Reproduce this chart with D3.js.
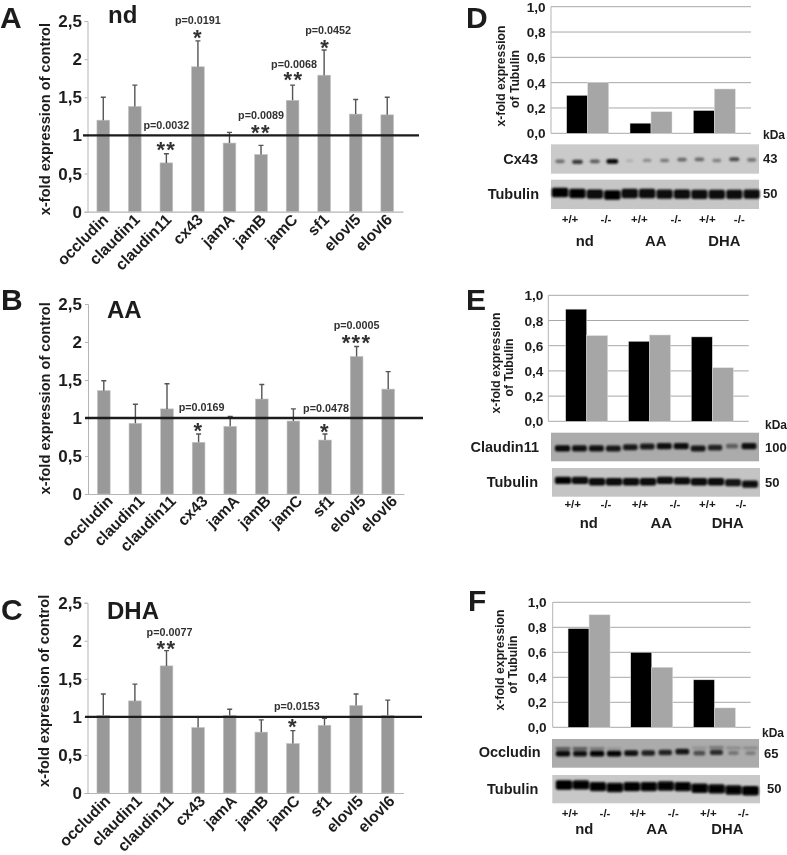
<!DOCTYPE html>
<html><head><meta charset="utf-8">
<script src="https://cdn.jsdelivr.net/npm/d3@7"></script>
<style>html,body{margin:0;padding:0;background:#fff}svg{display:block}text{font-family:"Liberation Sans",Arial,sans-serif;font-weight:bold;fill:#1c1c1c}</style>
</head><body><svg id="c" width="787" height="855"></svg>
<script>
// ---- data ----
const genes=["occludin","claudin1","claudin11","cx43","jamA","jamB","jamC","sf1","elovl5","elovl6"];
const yTicksLeft=[0,0.5,1,1.5,2,2.5];
const yTickLabelsLeft=["0","0,5","1","1,5","2","2,5"];
const yTicksRight=[0,0.2,0.4,0.6,0.8,1];
const yTickLabelsRight=["0,0","0,2","0,4","0,6","0,8","1,0"];
const ndMean=[1.2,1.38,0.64,1.9,0.9,0.75,1.46,1.79,1.28,1.27];
const ndUpper=[1.5,1.66,0.76,2.24,1.04,0.87,1.66,2.12,1.47,1.5];
const aaMean=[1.36,0.93,1.12,0.68,0.89,1.25,0.96,0.71,1.81,1.38];
const aaUpper=[1.49,1.18,1.45,0.79,1.02,1.44,1.12,0.79,1.94,1.61];
const dhaMean=[1.02,1.21,1.67,0.86,1.02,0.8,0.65,0.89,1.15,1.02];
const dhaUpper=[1.3,1.43,1.87,1.0,1.1,0.96,0.82,0.98,1.3,1.22];
const ndNotes=[["claudin11","p=0.0032","**",1.09,0.865],["cx43","p=0.0191","*",2.46,2.34],["jamB","p=0.0089","**",1.21,1.09],["jamC","p=0.0068","**",1.887,1.78],["sf1","p=0.0452","*",2.33,2.21]];
const aaNotes=[["cx43","p=0.0169","*",1.096,0.886],["sf1","p=0.0478","*",1.083,0.88],["elovl5","p=0.0005","***",2.165,2.05]];
const dhaNotes=[["claudin11","p=0.0077","**",2.063,1.954],["jamC","p=0.0153","*",1.09,0.924]];
const diets=["nd","AA","DHA"];
const genotypes=["+/+","-/-"];
const cx43Wt=[0.30,0.08,0.18], cx43Ko=[0.40,0.17,0.35];
const cldnWt=[0.89,0.635,0.67], cldnKo=[0.68,0.685,0.425];
const occlWt=[0.79,0.60,0.38], occlKo=[0.90,0.48,0.155];
const lanes=d3.range(12);
const cx43Band=[.45,.72,.55,.95,.12,.3,.4,.48,.48,.36,.62,.42];
const cx43Mig=[.58,.6,.58,.58,.56,.55,.55,.52,.51,.55,.51,.53];
const tubDBand=[1,.98,.96,1,.96,.96,.95,.96,.95,.95,.94,.95];
const tubDMig=[.44,.47,.49,.52,.47,.47,.49,.49,.5,.5,.5,.49];
const cldnBand=[.95,.9,.9,.88,.85,.85,.92,.92,.88,.8,.45,.92];
const cldnMig=[.55,.55,.55,.55,.51,.48,.47,.47,.55,.52,.47,.47];
const tubEBand=[.98,.96,.96,.96,.96,.96,.96,.96,.96,.96,.9,.92];
const tubEMig=[.43,.43,.48,.48,.48,.48,.43,.45,.48,.48,.51,.56];
const occlBand=[.95,.9,.98,.98,.9,.82,.8,.88,.55,.75,.32,.28];
const occlUpper=[.5,.5,.3,.1,0,0,0,0,.15,.3,.2,.2];
const occlMig=[.51,.51,.51,.51,.49,.49,.47,.44,.49,.47,.49,.49];
const tubFBand=[1,.98,.97,.97,.98,.97,.97,.97,.98,.98,.97,1];
const tubFMig=[.35,.35,.41,.44,.41,.41,.39,.41,.47,.49,.53,.56];

// ---- drawing ----
const svg=d3.select("#c");
const defs=svg.append("defs");
defs.append("filter").attr("id","soft").attr("x","-2%").attr("y","-2%").attr("width","104%").attr("height","104%").append("feGaussianBlur").attr("stdDeviation",0.35);
defs.append("filter").attr("id","band").attr("x","-30%").attr("y","-60%").attr("width","160%").attr("height","220%").append("feGaussianBlur").attr("stdDeviation",0.9);
const root=svg.append("g").attr("filter","url(#soft)");
const txt=(s,x,y,size,anchor="start",rot=null,fill=null)=>{
  const t=root.append("text").attr("x",x).attr("y",y).attr("font-size",size).attr("text-anchor",anchor).text(s);
  if(rot!==null)t.attr("transform",`rotate(${rot} ${x} ${y})`);
  if(fill)t.style("fill",fill);
  return t;
};
function left(o){
  const x=d3.scaleBand().domain(genes).range([o.x0,o.x1]);
  const y=d3.scaleLinear().domain([0,2.5]).range([o.bottom,o.top]);
  const g=root.append("g");
  const rows=genes.map((k,i)=>({k,m:o.mean[i],u:o.upper[i]}));
  const bw=12.7;
  g.selectAll(".bar").data(rows).join("rect").attr("x",d=>x(d.k)+x.bandwidth()/2-bw/2).attr("width",bw).attr("y",d=>y(d.m)).attr("height",d=>y(0)-y(d.m)).attr("fill","#999").attr("stroke","#c4c4c4").attr("stroke-width",.6);
  g.selectAll(".eb").data(rows).join("path").attr("d",d=>{const c=x(d.k)+x.bandwidth()/2;return `M${c},${y(d.m)}V${y(d.u)}M${c-2.5},${y(d.u)}H${c+2.5}`}).attr("stroke","#555").attr("stroke-width",1.4).attr("fill","none");
  const ax=g.append("g").attr("transform",`translate(${o.x0},0)`).call(d3.axisLeft(y).tickValues(yTicksLeft).tickSize(3).tickFormat(""));
  ax.selectAll("path,line").attr("stroke","#b5b5b5").attr("stroke-width",1);
  g.append("g").attr("transform",`translate(0,${o.bottom})`).call(d3.axisBottom(x).tickSize(0).tickFormat("")).selectAll("path").attr("stroke","#b5b5b5").attr("stroke-width",1.2);
  g.append("line").attr("x1",o.refX0).attr("x2",o.refX1).attr("y1",y(1)).attr("y2",y(1)).attr("stroke","#1a1a1a").attr("stroke-width",2.4);
  yTicksLeft.forEach((t,i)=>txt(yTickLabelsLeft[i],82,y(t)+6,17,"end"));
  genes.forEach((k,i)=>txt(k,x(k)+x.bandwidth()/2+5+o.labDx,o.bottom+o.labDy,15.7,"end",-45));
  txt("x-fold expression of control",o.titleX,(o.top+o.bottom)/2+o.titleDy,14.6,"middle",-90);
  txt(o.title,o.titleTx,o.titleTy,24);
  txt(o.letter,o.letterX,o.letterY,30);
  o.notes.forEach(n=>{
    const c=x(n[0])+x.bandwidth()/2;
    const dx=o.noteDx[n[0]]||[0,0];
    txt(n[1],c+dx[0],y(n[3]),10.8,"middle",null,"#333");
    txt(n[2],c+dx[1],y(n[4])+11.5,22,"middle",null,"#333").style("letter-spacing","1.4px");
  });
}
left({x0:87.5,x1:403,top:21,bottom:211.7,mean:ndMean,upper:ndUpper,refX0:83,refX1:419,notes:ndNotes,noteDx:{sf1:[4,1],jamC:[1.5,1]},title:"nd",titleTx:108,titleTy:23,letter:"A",letterX:0,letterY:28,titleX:50,titleDy:2.7,labDx:1,labDy:9});
left({x0:88,x1:404,top:304,bottom:494,mean:aaMean,upper:aaUpper,refX0:85,refX1:423,notes:aaNotes,noteDx:{cx43:[3,0],sf1:[1,0]},title:"AA",titleTx:107,titleTy:318,letter:"B",letterX:1,letterY:310,titleX:50,titleDy:-0.7,labDx:5,labDy:8});
left({x0:87.5,x1:403.5,top:602.7,bottom:793,mean:dhaMean,upper:dhaUpper,refX0:85,refX1:422,notes:dhaNotes,noteDx:{claudin11:[3,0],jamC:[4,0]},title:"DHA",titleTx:107,titleTy:619,letter:"C",letterX:1,letterY:620,titleX:49,titleDy:-7,labDx:3,labDy:9});

function right(o){
  const x=d3.scaleBand().domain(diets).range([o.gx0,o.gx0+3*o.gstep]);
  const y=d3.scaleLinear().domain([0,1]).range([o.bottom,o.top]);
  const g=root.append("g");
  g.selectAll(".gl").data(yTicksRight).join("line").attr("x1",o.x0).attr("x2",o.x1).attr("y1",d=>y(d)).attr("y2",d=>y(d)).attr("stroke","#a8a8a8").attr("stroke-width",1);
  g.append("line").attr("x1",o.x0).attr("x2",o.x0).attr("y1",o.top).attr("y2",o.bottom).attr("stroke","#b5b5b5");
  const bw=21;
  const mk=(vals,off,col)=>g.selectAll(".b"+off).data(diets.map((d,i)=>({d,v:vals[i]}))).join("rect").attr("x",d=>x(d.d)+x.bandwidth()/2+off*bw).attr("width",bw).attr("y",d=>y(d.v)).attr("height",d=>y(0)-y(d.v)).attr("fill",col).attr("stroke","#ddd").attr("stroke-width",.5);
  mk(o.wt,-1,"#000");mk(o.ko,0,"#a6a6a6");
  yTicksRight.forEach((t,i)=>txt(yTickLabelsRight[i],o.tickX,y(t)+5,13.6,"end"));
  txt("x-fold expression",o.t1x,o.t1y,12.2,"middle",-90);
  txt("of Tubulin",o.t2x,o.t2y,12.2,"middle",-90);
  txt("kDa",o.kdaX,o.kdaY,12);
  txt(o.letter,o.letterX,o.letterY,30);
  o.blots.forEach(b=>{
    const h=b.y1-b.y0;
    root.append("rect").attr("x",b.x0).attr("y",b.y0).attr("width",b.x1-b.x0).attr("height",h).attr("fill",b.bg);
    const lx=d3.scalePoint().domain(lanes).range([b.lx0,b.lx1]);
    const ly=d3.scaleLinear().domain([0,1]).range([b.y0,b.y1]);
    const gb=root.append("g").attr("filter","url(#band)");
    gb.selectAll(".m").data(lanes.map(i=>({i,a:b.band[i],m:b.mig[i]}))).join("rect").attr("class","m")
      .attr("x",d=>lx(d.i)-b.w/2*(.6+.4*d.a)).attr("width",d=>b.w*(.6+.4*d.a))
      .attr("y",d=>ly(d.m)-b.t*(.5+.5*d.a)/2).attr("height",d=>b.t*(.5+.5*d.a))
      .attr("rx",2).attr("fill","#000").attr("fill-opacity",d=>d.a);
    if(b.upperBand) gb.selectAll(".u").data(lanes.map(i=>({i,a:b.upperBand[i],m:b.mig[i]}))).join("rect").attr("class","u")
      .attr("x",d=>lx(d.i)-b.w/2).attr("width",b.w).attr("y",d=>ly(d.m)-6.5).attr("height",2.8).attr("fill","#000").attr("fill-opacity",d=>d.a);
    txt(b.name,b.nameX,b.nameY,14.5,"end");
    txt(b.kda,b.kdaX,b.kdaY,13);
  });
  o.genoX.forEach((c,i)=>txt(genotypes[i%2],c,o.genoY,11.5,"middle"));
  o.dietX.forEach((c,i)=>txt(diets[i],c,o.dietY,14.8,"middle"));
}
right({letter:"D",letterX:466,letterY:28,x0:551,x1:751,top:6.7,bottom:133.3,gx0:556,gstep:63.33,wt:cx43Wt,ko:cx43Ko,tickX:545.7,t1x:505,t1y:76,t2x:519,t2y:79,kdaX:763,kdaY:139.3,
 blots:[{x0:551,x1:759,y0:144.3,y1:173.7,bg:"#cacaca",lx0:560,lx1:751.7,band:cx43Band,mig:cx43Mig,w:12,t:5,name:"Cx43",nameX:538,nameY:164.3,kda:"43",kdaX:763,kdaY:163.3},
        {x0:551,x1:759,y0:179.7,y1:209,bg:"#c6c6c6",lx0:560,lx1:751.7,band:tubDBand,mig:tubDMig,w:16.5,t:9.5,name:"Tubulin",nameX:539,nameY:199,kda:"50",kdaX:763,kdaY:198.3}],
 genoX:[570,606,639.3,676,707.3,739.3],genoY:223.3,dietX:[584.7,655.7,724.3],dietY:245.7});
right({letter:"E",letterX:466,letterY:310,x0:548.3,x1:748.7,top:295.3,bottom:421.3,gx0:555.3,gstep:62.8,wt:cldnWt,ko:cldnKo,tickX:543.3,t1x:500,t1y:363,t2x:513,t2y:367.5,kdaX:765,kdaY:429.3,
 blots:[{x0:551,x1:759,y0:432.7,y1:461.3,bg:"#ababab",lx0:562.5,lx1:749,band:cldnBand,mig:cldnMig,w:15.5,t:6.5,name:"Claudin11",nameX:539,nameY:451.7,kda:"100",kdaX:765,kdaY:451.7},
        {x0:552,x1:760,y0:468,y1:496.7,bg:"#c4c4c4",lx0:563,lx1:750,band:tubEBand,mig:tubEMig,w:16.5,t:7.5,name:"Tubulin",nameX:538,nameY:487.3,kda:"50",kdaX:765,kdaY:486.7}],
 genoX:[572.7,606,640,675,707.3,741],genoY:508.3,dietX:[588.7,661.3,727.7],dietY:528.3});
right({letter:"F",letterX:468,letterY:611,x0:552.7,x1:750.7,top:602.3,bottom:727.3,gx0:557.7,gstep:62.7,wt:occlWt,ko:occlKo,tickX:546.7,t1x:504,t1y:660,t2x:517,t2y:664.5,kdaX:762,kdaY:737.3,
 blots:[{x0:552,x1:759,y0:739,y1:767.7,bg:"#ababab",lx0:563,lx1:750.5,band:occlBand,upperBand:occlUpper,mig:occlMig,w:14.5,t:6,name:"Occludin",nameX:540.7,nameY:757.3,kda:"65",kdaX:764,kdaY:758.3},
        {x0:552.3,x1:760,y0:775,y1:803.3,bg:"#c8c8c8",lx0:564,lx1:750.5,band:tubFBand,mig:tubFMig,w:16.5,t:9.5,name:"Tubulin",nameX:538.3,nameY:794.3,kda:"50",kdaX:767,kdaY:793.3}],
 genoX:[570,605,637.7,673.3,708.3,743.3],genoY:817.3,dietX:[584.3,657,727.3],dietY:834.3});
</script></body></html>
